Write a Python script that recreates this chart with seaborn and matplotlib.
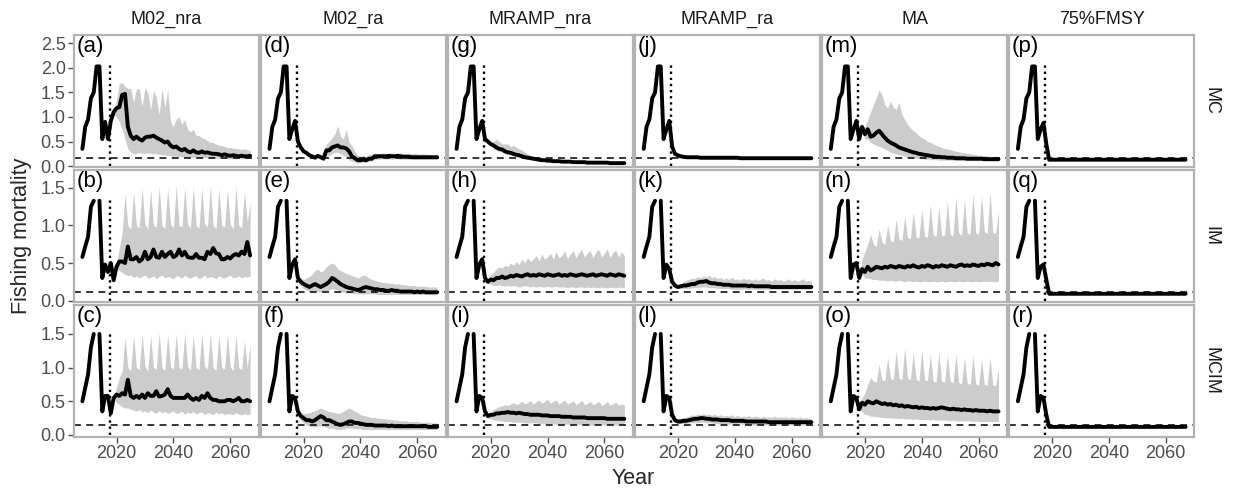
import numpy as np
import seaborn as sns
import matplotlib
matplotlib.use("Agg")
import matplotlib.pyplot as plt
from matplotlib.ticker import MultipleLocator, FixedLocator, FormatStrFormatter

nan = float("nan")

strategies = ["M02_nra", "M02_ra", "MRAMP_nra", "MRAMP_ra", "MA", "75%FMSY"]
models = ["MC", "IM", "MCIM"]

years_hist = list(range(2008, 2016))
years_proj = list(range(2016, 2068))

# historical F (2008-2015), one per operating model
hist_MC = [0.35, 0.80, 0.95, 1.38, 1.50, 2.03, 2.03, 0.55]
hist_IM = [0.58, 0.72, 0.85, 1.25, 1.33, nan, 1.33, 0.30]
hist_MCIM = [0.50, 0.70, 0.90, 1.30, 1.50, nan, 1.50, 0.35]

# reference F (dashed) per operating model
fref_MC = 0.155
fref_IM = 0.11
fref_MCIM = 0.15

# ---- MC ----
med_a = [0.90, 0.55, 0.92, 1.10, 1.18, 1.20, 1.45, 1.47, 0.80, 0.62,
         0.55, 0.60, 0.55, 0.52, 0.58, 0.60, 0.60, 0.62, 0.58, 0.55,
         0.52, 0.48, 0.50, 0.42, 0.38, 0.40, 0.35, 0.32, 0.35, 0.30,
         0.28, 0.32, 0.28, 0.27, 0.30, 0.27, 0.28, 0.26, 0.25, 0.25,
         0.24, 0.22, 0.24, 0.22, 0.21, 0.22, 0.21, 0.20, 0.21, 0.20, 0.20, 0.21]
hi_a = [0.90, 0.55, 0.92, 1.10, 1.35, 1.68, 1.70, 1.62, 1.58, 1.58,
        1.30, 1.57, 1.58, 1.22, 1.60, 1.50, 1.15, 1.55, 1.40, 1.05,
        1.57, 1.20, 1.55, 0.90, 0.80, 0.95, 1.00, 0.85, 0.95, 0.75,
        0.70, 0.75, 0.62, 0.62, 0.58, 0.55, 0.52, 0.48, 0.48, 0.45,
        0.42, 0.42, 0.40, 0.38, 0.38, 0.36, 0.36, 0.35, 0.34, 0.35, 0.33, 0.32]
lo_a = [0.90, 0.55, 0.92, 1.05, 1.00, 0.90, 0.75, 0.55, 0.35, 0.28,
        0.25, 0.26, 0.27, 0.26, 0.26, 0.27, 0.26, 0.25, 0.25, 0.24,
        0.23, 0.22, 0.22, 0.21, 0.20, 0.20, 0.19, 0.19, 0.18, 0.18,
        0.18, 0.18, 0.18, 0.17, 0.17, 0.17, 0.17, 0.16, 0.16, 0.16,
        0.16, 0.16, 0.15, 0.15, 0.15, 0.15, 0.15, 0.15, 0.15, 0.15, 0.15, 0.15]

med_d = [0.75, 0.92, 0.50, 0.38, 0.30, 0.27, 0.22, 0.20, 0.17, 0.21,
         0.18, 0.15, 0.32, 0.32, 0.38, 0.40, 0.42, 0.38, 0.38, 0.36,
         0.30, 0.20, 0.16, 0.12, 0.12, 0.13, 0.12, 0.15, 0.15, 0.20,
         0.20, 0.20, 0.20, 0.20, 0.21, 0.20, 0.20, 0.21, 0.20, 0.19,
         0.19, 0.19, 0.18, 0.18, 0.18, 0.18, 0.18, 0.18, 0.18, 0.18, 0.18, 0.18]
hi_d = [0.75, 0.92, 0.50, 0.38, 0.32, 0.28, 0.25, 0.23, 0.22, 0.24,
        0.22, 0.30, 0.45, 0.50, 0.58, 0.65, 0.82, 0.60, 0.55, 0.75,
        0.48, 0.42, 0.30, 0.22, 0.20, 0.22, 0.20, 0.24, 0.24, 0.26,
        0.26, 0.25, 0.27, 0.25, 0.26, 0.27, 0.25, 0.26, 0.27, 0.25,
        0.26, 0.27, 0.25, 0.26, 0.25, 0.24, 0.25, 0.24, 0.24, 0.23, 0.23, 0.23]
lo_d = [0.75, 0.92, 0.50, 0.38, 0.28, 0.25, 0.20, 0.18, 0.15, 0.17,
        0.15, 0.12, 0.20, 0.22, 0.25, 0.28, 0.28, 0.25, 0.22, 0.20,
        0.12, 0.10, 0.08, 0.06, 0.07, 0.08, 0.07, 0.10, 0.10, 0.14,
        0.14, 0.14, 0.15, 0.14, 0.15, 0.14, 0.15, 0.15, 0.14, 0.14,
        0.14, 0.14, 0.14, 0.14, 0.14, 0.14, 0.14, 0.14, 0.14, 0.14, 0.14, 0.14]

med_g = [0.75, 0.92, 0.55, 0.50, 0.45, 0.42, 0.38, 0.35, 0.34, 0.30,
         0.28, 0.27, 0.25, 0.23, 0.22, 0.20, 0.18, 0.17, 0.16, 0.15,
         0.14, 0.13, 0.12, 0.12, 0.11, 0.11, 0.10, 0.10, 0.10, 0.09,
         0.09, 0.09, 0.09, 0.08, 0.08, 0.08, 0.08, 0.08, 0.07, 0.07,
         0.07, 0.07, 0.07, 0.07, 0.07, 0.07, 0.06, 0.06, 0.06, 0.06, 0.06, 0.06]
hi_g = [0.75, 0.92, 0.55, 0.50, 0.48, 0.50, 0.55, 0.50, 0.45, 0.45,
        0.45, 0.40, 0.42, 0.38, 0.35, 0.32, 0.28, 0.25, 0.22, 0.20,
        0.18, 0.16, 0.15, 0.14, 0.13, 0.13, 0.12, 0.12, 0.11, 0.11,
        0.10, 0.10, 0.10, 0.10, 0.09, 0.09, 0.09, 0.09, 0.09, 0.09,
        0.09, 0.09, 0.08, 0.08, 0.08, 0.08, 0.08, 0.08, 0.08, 0.08, 0.08, 0.08]
lo_g = [0.75, 0.92, 0.55, 0.48, 0.42, 0.35, 0.32, 0.30, 0.28, 0.26,
        0.24, 0.22, 0.21, 0.19, 0.18, 0.17, 0.16, 0.15, 0.14, 0.13,
        0.12, 0.11, 0.10, 0.10, 0.09, 0.09, 0.08, 0.08, 0.08, 0.07,
        0.07, 0.07, 0.07, 0.07, 0.07, 0.06, 0.06, 0.06, 0.06, 0.06,
        0.06, 0.06, 0.06, 0.05, 0.05, 0.05, 0.05, 0.05, 0.05, 0.05, 0.05, 0.05]

med_j = [0.75, 0.92, 0.40, 0.25, 0.22, 0.20, 0.19, 0.18, 0.18, 0.18,
         0.18, 0.18, 0.17, 0.17, 0.17, 0.17, 0.17, 0.17, 0.17, 0.17,
         0.17, 0.17, 0.17, 0.17, 0.17, 0.17, 0.16, 0.16, 0.16, 0.16,
         0.16, 0.16, 0.16, 0.16, 0.16, 0.16, 0.16, 0.16, 0.16, 0.16,
         0.16, 0.16, 0.16, 0.16, 0.16, 0.16, 0.16, 0.16, 0.16, 0.16, 0.16, 0.16]
hi_j = [0.75, 0.92, 0.40, 0.27, 0.25, 0.24, 0.23, 0.22, 0.22, 0.22,
        0.22, 0.21, 0.21, 0.21, 0.20, 0.20, 0.20, 0.20, 0.20, 0.20,
        0.19, 0.19, 0.19, 0.19, 0.19, 0.19, 0.19, 0.19, 0.19, 0.19,
        0.19, 0.19, 0.19, 0.19, 0.19, 0.19, 0.19, 0.19, 0.19, 0.19,
        0.19, 0.19, 0.19, 0.19, 0.19, 0.19, 0.19, 0.19, 0.19, 0.19, 0.19, 0.19]
lo_j = [0.75, 0.92, 0.40, 0.23, 0.19, 0.17, 0.16, 0.15, 0.15, 0.15,
        0.15, 0.15, 0.14, 0.14, 0.14, 0.14, 0.14, 0.14, 0.14, 0.14,
        0.14, 0.14, 0.14, 0.14, 0.14, 0.14, 0.14, 0.14, 0.14, 0.14,
        0.14, 0.14, 0.14, 0.14, 0.14, 0.14, 0.14, 0.14, 0.14, 0.14,
        0.14, 0.14, 0.14, 0.14, 0.14, 0.14, 0.14, 0.14, 0.14, 0.14, 0.14, 0.14]

med_m = [0.75, 0.92, 0.55, 0.80, 0.65, 0.75, 0.60, 0.62, 0.68, 0.72,
         0.65, 0.58, 0.52, 0.48, 0.45, 0.42, 0.38, 0.36, 0.34, 0.32,
         0.30, 0.28, 0.27, 0.25, 0.24, 0.23, 0.22, 0.21, 0.20, 0.19,
         0.19, 0.18, 0.18, 0.17, 0.17, 0.17, 0.16, 0.16, 0.16, 0.16,
         0.15, 0.15, 0.15, 0.15, 0.15, 0.15, 0.14, 0.14, 0.14, 0.14, 0.14, 0.14]
hi_m = [0.75, 0.92, 0.55, 0.80, 0.80, 0.95, 1.10, 1.25, 1.40, 1.55,
        1.45, 1.25, 1.18, 1.32, 1.20, 1.15, 1.30, 1.05, 0.95, 0.85,
        0.78, 0.72, 0.68, 0.62, 0.58, 0.55, 0.50, 0.48, 0.45, 0.42,
        0.40, 0.38, 0.36, 0.35, 0.33, 0.32, 0.30, 0.29, 0.28, 0.27,
        0.26, 0.25, 0.24, 0.23, 0.22, 0.22, 0.21, 0.21, 0.20, 0.20, 0.20, 0.19]
lo_m = [0.75, 0.92, 0.55, 0.70, 0.55, 0.55, 0.48, 0.45, 0.42, 0.40,
        0.38, 0.35, 0.32, 0.28, 0.26, 0.25, 0.23, 0.22, 0.20, 0.19,
        0.18, 0.17, 0.16, 0.15, 0.15, 0.14, 0.14, 0.13, 0.13, 0.13,
        0.12, 0.12, 0.12, 0.12, 0.12, 0.12, 0.11, 0.11, 0.11, 0.11,
        0.11, 0.11, 0.11, 0.11, 0.11, 0.11, 0.11, 0.11, 0.11, 0.11, 0.11, 0.11]

med_p = [0.75, 0.88, 0.45] + [0.13] * 49

# ---- IM ----
med_b = [0.48, 0.38, 0.50, 0.27, 0.45, 0.52, 0.52, 0.50, 0.72, 0.55,
         0.55, 0.58, 0.52, 0.55, 0.65, 0.55, 0.58, 0.68, 0.58, 0.57,
         0.65, 0.58, 0.62, 0.65, 0.58, 0.60, 0.68, 0.60, 0.65, 0.58,
         0.57, 0.57, 0.62, 0.57, 0.57, 0.55, 0.65, 0.62, 0.70, 0.63,
         0.62, 0.55, 0.55, 0.58, 0.56, 0.60, 0.62, 0.60, 0.65, 0.62, 0.78, 0.60]
hi_b = [0.48, 0.38, 0.50, 0.27, 0.50, 0.70, 0.90, 1.42, 1.00, 0.95,
        1.45, 1.00, 0.97, 1.50, 1.02, 0.95, 1.48, 1.00, 0.98, 1.52,
        1.00, 0.96, 1.50, 1.02, 0.97, 1.53, 1.00, 0.98, 1.50, 1.02,
        0.96, 1.52, 1.00, 0.97, 1.50, 1.02, 0.98, 1.53, 1.00, 0.96,
        1.50, 1.00, 0.98, 1.48, 1.02, 0.95, 1.52, 1.00, 0.97, 1.45, 1.05, 1.30]
lo_b = [0.48, 0.38, 0.50, 0.27, 0.42, 0.40, 0.37, 0.35, 0.33, 0.34,
        0.31, 0.33, 0.30, 0.32, 0.34, 0.30, 0.31, 0.33, 0.29, 0.32,
        0.34, 0.30, 0.32, 0.31, 0.29, 0.33, 0.32, 0.30, 0.34, 0.31,
        0.30, 0.32, 0.33, 0.29, 0.31, 0.34, 0.30, 0.32, 0.31, 0.29,
        0.33, 0.31, 0.30, 0.32, 0.34, 0.30, 0.31, 0.33, 0.30, 0.32, 0.31, 0.33]

med_e = [0.48, 0.55, 0.30, 0.25, 0.22, 0.20, 0.18, 0.20, 0.22, 0.20,
         0.18, 0.20, 0.22, 0.25, 0.30, 0.28, 0.25, 0.22, 0.20, 0.18,
         0.17, 0.16, 0.15, 0.14, 0.15, 0.17, 0.18, 0.17, 0.16, 0.15,
         0.15, 0.14, 0.14, 0.13, 0.13, 0.14, 0.13, 0.13, 0.12, 0.12,
         0.12, 0.12, 0.12, 0.11, 0.12, 0.11, 0.12, 0.11, 0.11, 0.11, 0.11, 0.11]
hi_e = [0.48, 0.55, 0.32, 0.30, 0.28, 0.30, 0.32, 0.35, 0.40, 0.42,
        0.38, 0.40, 0.45, 0.48, 0.50, 0.48, 0.42, 0.40, 0.38, 0.36,
        0.35, 0.33, 0.32, 0.30, 0.32, 0.34, 0.33, 0.30, 0.28, 0.27,
        0.26, 0.25, 0.24, 0.24, 0.23, 0.23, 0.22, 0.22, 0.22, 0.21,
        0.21, 0.20, 0.20, 0.20, 0.19, 0.19, 0.19, 0.19, 0.18, 0.18, 0.18, 0.18]
lo_e = [0.48, 0.55, 0.28, 0.20, 0.16, 0.14, 0.12, 0.12, 0.13, 0.12,
        0.11, 0.12, 0.13, 0.14, 0.16, 0.15, 0.14, 0.12, 0.11, 0.10,
        0.10, 0.10, 0.09, 0.09, 0.09, 0.09, 0.09, 0.09, 0.09, 0.09,
        0.08, 0.08, 0.08, 0.08, 0.08, 0.08, 0.08, 0.08, 0.08, 0.08,
        0.08, 0.08, 0.08, 0.08, 0.08, 0.08, 0.08, 0.08, 0.08, 0.08, 0.08, 0.08]

med_h = [0.48, 0.55, 0.30, 0.25, 0.28, 0.27, 0.30, 0.30, 0.32, 0.30,
         0.31, 0.33, 0.32, 0.34, 0.33, 0.32, 0.34, 0.35, 0.33, 0.34,
         0.33, 0.35, 0.34, 0.33, 0.35, 0.34, 0.33, 0.34, 0.35, 0.33,
         0.34, 0.33, 0.35, 0.34, 0.33, 0.34, 0.35, 0.34, 0.33, 0.34,
         0.35, 0.33, 0.34, 0.35, 0.34, 0.33, 0.35, 0.34, 0.33, 0.35, 0.34, 0.33]
hi_h = [0.48, 0.55, 0.30, 0.28, 0.35, 0.38, 0.42, 0.45, 0.43, 0.47,
        0.45, 0.50, 0.47, 0.52, 0.48, 0.55, 0.50, 0.57, 0.52, 0.55,
        0.60, 0.53, 0.62, 0.55, 0.58, 0.63, 0.55, 0.65, 0.57, 0.60,
        0.66, 0.56, 0.62, 0.67, 0.57, 0.64, 0.68, 0.58, 0.63, 0.67,
        0.57, 0.65, 0.68, 0.58, 0.63, 0.69, 0.57, 0.64, 0.67, 0.58, 0.65, 0.60]
lo_h = [0.48, 0.55, 0.30, 0.22, 0.22, 0.20, 0.20, 0.21, 0.20, 0.19,
        0.20, 0.19, 0.20, 0.19, 0.18, 0.19, 0.20, 0.19, 0.18, 0.19,
        0.18, 0.19, 0.18, 0.18, 0.19, 0.18, 0.18, 0.19, 0.18, 0.18,
        0.18, 0.17, 0.18, 0.18, 0.17, 0.18, 0.18, 0.17, 0.18, 0.17,
        0.18, 0.17, 0.17, 0.18, 0.17, 0.17, 0.18, 0.17, 0.17, 0.18, 0.17, 0.17]

med_k = [0.48, 0.42, 0.25, 0.20, 0.18, 0.19, 0.20, 0.20, 0.21, 0.22,
         0.22, 0.24, 0.25, 0.25, 0.26, 0.24, 0.23, 0.23, 0.22, 0.22,
         0.21, 0.21, 0.21, 0.20, 0.20, 0.20, 0.20, 0.20, 0.20, 0.19,
         0.20, 0.19, 0.19, 0.19, 0.19, 0.19, 0.19, 0.18, 0.18, 0.18,
         0.18, 0.18, 0.18, 0.18, 0.18, 0.18, 0.18, 0.18, 0.18, 0.18, 0.18, 0.18]
hi_k = [0.48, 0.42, 0.25, 0.21, 0.20, 0.22, 0.25, 0.27, 0.28, 0.30,
        0.29, 0.32, 0.30, 0.33, 0.31, 0.34, 0.30, 0.32, 0.29, 0.31,
        0.28, 0.30, 0.28, 0.31, 0.28, 0.29, 0.27, 0.30, 0.28, 0.29,
        0.27, 0.29, 0.27, 0.28, 0.30, 0.27, 0.28, 0.26, 0.29, 0.27,
        0.28, 0.26, 0.27, 0.29, 0.26, 0.28, 0.26, 0.27, 0.29, 0.26, 0.27, 0.26]
lo_k = [0.48, 0.42, 0.25, 0.19, 0.16, 0.16, 0.16, 0.16, 0.16, 0.17,
        0.17, 0.17, 0.18, 0.18, 0.18, 0.17, 0.17, 0.17, 0.16, 0.16,
        0.16, 0.16, 0.16, 0.15, 0.15, 0.15, 0.15, 0.15, 0.15, 0.15,
        0.15, 0.15, 0.15, 0.15, 0.15, 0.15, 0.15, 0.15, 0.15, 0.15,
        0.15, 0.15, 0.15, 0.15, 0.15, 0.15, 0.15, 0.15, 0.15, 0.15, 0.15, 0.15]

med_n = [0.48, 0.50, 0.30, 0.42, 0.38, 0.45, 0.40, 0.42, 0.45, 0.44,
         0.43, 0.45, 0.44, 0.46, 0.45, 0.44, 0.46, 0.45, 0.44, 0.46,
         0.45, 0.47, 0.45, 0.44, 0.46, 0.45, 0.47, 0.46, 0.44, 0.46,
         0.45, 0.47, 0.46, 0.45, 0.47, 0.46, 0.45, 0.47, 0.48, 0.46,
         0.47, 0.46, 0.48, 0.47, 0.46, 0.48, 0.47, 0.49, 0.48, 0.47, 0.50, 0.48]
hi_n = [0.48, 0.50, 0.30, 0.55, 0.65, 0.75, 0.88, 0.75, 0.72, 0.95,
        0.78, 0.75, 1.00, 0.80, 0.78, 1.08, 0.82, 0.80, 1.12, 0.84,
        0.82, 1.18, 0.85, 0.83, 1.22, 0.86, 0.84, 1.28, 0.88, 0.85,
        1.25, 0.86, 0.87, 1.32, 0.88, 0.86, 1.38, 0.90, 0.87, 1.35,
        0.90, 0.88, 1.42, 0.90, 0.88, 1.40, 0.92, 0.89, 1.45, 0.90, 0.90, 1.20]
lo_n = [0.48, 0.50, 0.30, 0.35, 0.30, 0.30, 0.29, 0.28, 0.28, 0.27,
        0.27, 0.27, 0.26, 0.27, 0.26, 0.26, 0.27, 0.26, 0.25, 0.26,
        0.26, 0.25, 0.26, 0.25, 0.25, 0.26, 0.25, 0.25, 0.26, 0.25,
        0.25, 0.26, 0.25, 0.25, 0.26, 0.25, 0.25, 0.26, 0.25, 0.25,
        0.26, 0.25, 0.25, 0.26, 0.25, 0.25, 0.26, 0.25, 0.26, 0.25, 0.25, 0.26]

med_q = [0.45, 0.48, 0.28] + [0.09] * 49

# ---- MCIM ----
med_c = [0.58, 0.58, 0.32, 0.55, 0.60, 0.58, 0.62, 0.60, 0.82, 0.58,
         0.55, 0.58, 0.55, 0.60, 0.55, 0.62, 0.58, 0.58, 0.65, 0.57,
         0.58, 0.60, 0.68, 0.58, 0.55, 0.55, 0.55, 0.55, 0.55, 0.60,
         0.55, 0.52, 0.55, 0.52, 0.58, 0.55, 0.62, 0.55, 0.52, 0.52,
         0.50, 0.50, 0.50, 0.52, 0.52, 0.50, 0.52, 0.55, 0.50, 0.50, 0.52, 0.50]
hi_c = [0.58, 0.58, 0.32, 0.55, 0.70, 0.85, 0.95, 1.45, 1.00, 0.95,
        1.48, 1.00, 0.97, 1.50, 1.02, 0.95, 1.48, 1.00, 0.98, 1.52,
        1.00, 0.96, 1.50, 1.02, 0.97, 1.50, 1.00, 0.98, 1.52, 1.02,
        0.96, 1.48, 1.00, 0.97, 1.52, 1.02, 0.98, 1.50, 1.00, 0.96,
        1.48, 1.00, 0.98, 1.50, 1.02, 0.95, 1.48, 1.00, 0.97, 1.40, 1.00, 1.35]
lo_c = [0.58, 0.58, 0.32, 0.55, 0.48, 0.45, 0.42, 0.40, 0.40, 0.38,
        0.37, 0.35, 0.38, 0.34, 0.36, 0.33, 0.37, 0.34, 0.32, 0.36,
        0.33, 0.35, 0.32, 0.34, 0.36, 0.32, 0.33, 0.35, 0.31, 0.34,
        0.32, 0.35, 0.31, 0.33, 0.34, 0.30, 0.33, 0.32, 0.30, 0.34,
        0.31, 0.33, 0.30, 0.32, 0.31, 0.30, 0.33, 0.31, 0.30, 0.32, 0.30, 0.31]

med_f = [0.58, 0.55, 0.35, 0.28, 0.25, 0.22, 0.22, 0.20, 0.22, 0.25,
         0.28, 0.26, 0.22, 0.22, 0.20, 0.18, 0.16, 0.15, 0.16, 0.18,
         0.20, 0.20, 0.18, 0.18, 0.17, 0.16, 0.15, 0.15, 0.15, 0.14,
         0.14, 0.14, 0.14, 0.14, 0.13, 0.14, 0.13, 0.13, 0.13, 0.13,
         0.13, 0.13, 0.13, 0.13, 0.13, 0.13, 0.13, 0.13, 0.12, 0.12, 0.12, 0.12]
hi_f = [0.58, 0.55, 0.38, 0.33, 0.32, 0.32, 0.33, 0.35, 0.36, 0.38,
        0.40, 0.38, 0.36, 0.35, 0.34, 0.33, 0.32, 0.33, 0.35, 0.38,
        0.40, 0.38, 0.35, 0.33, 0.30, 0.29, 0.28, 0.27, 0.26, 0.26,
        0.25, 0.25, 0.24, 0.24, 0.23, 0.23, 0.22, 0.22, 0.21, 0.21,
        0.21, 0.20, 0.20, 0.20, 0.20, 0.19, 0.19, 0.19, 0.19, 0.18, 0.18, 0.18]
lo_f = [0.58, 0.55, 0.32, 0.22, 0.18, 0.15, 0.13, 0.12, 0.12, 0.13,
        0.14, 0.13, 0.11, 0.10, 0.10, 0.09, 0.08, 0.08, 0.09, 0.10,
        0.10, 0.10, 0.09, 0.09, 0.09, 0.08, 0.08, 0.08, 0.08, 0.08,
        0.08, 0.08, 0.08, 0.08, 0.08, 0.08, 0.08, 0.08, 0.08, 0.08,
        0.08, 0.08, 0.08, 0.08, 0.08, 0.08, 0.08, 0.08, 0.08, 0.08, 0.08, 0.08]

med_i = [0.58, 0.55, 0.35, 0.28, 0.30, 0.30, 0.32, 0.32, 0.33, 0.33,
         0.34, 0.33, 0.33, 0.32, 0.33, 0.32, 0.31, 0.31, 0.30, 0.30,
         0.30, 0.30, 0.29, 0.29, 0.29, 0.28, 0.28, 0.28, 0.28, 0.27,
         0.27, 0.27, 0.27, 0.26, 0.26, 0.26, 0.26, 0.26, 0.25, 0.25,
         0.25, 0.25, 0.25, 0.25, 0.25, 0.24, 0.24, 0.24, 0.24, 0.24, 0.24, 0.24]
hi_i = [0.58, 0.55, 0.35, 0.30, 0.35, 0.38, 0.40, 0.42, 0.43, 0.45,
        0.44, 0.46, 0.48, 0.45, 0.47, 0.50, 0.46, 0.48, 0.51, 0.46,
        0.49, 0.52, 0.47, 0.50, 0.53, 0.47, 0.50, 0.52, 0.46, 0.49,
        0.52, 0.46, 0.48, 0.51, 0.45, 0.48, 0.51, 0.45, 0.47, 0.50,
        0.45, 0.47, 0.50, 0.44, 0.46, 0.50, 0.44, 0.46, 0.49, 0.44, 0.46, 0.45]
lo_i = [0.58, 0.55, 0.35, 0.25, 0.24, 0.22, 0.22, 0.21, 0.21, 0.20,
        0.20, 0.20, 0.19, 0.19, 0.19, 0.19, 0.18, 0.18, 0.18, 0.18,
        0.18, 0.17, 0.17, 0.17, 0.17, 0.17, 0.17, 0.16, 0.16, 0.16,
        0.16, 0.16, 0.16, 0.16, 0.16, 0.16, 0.15, 0.15, 0.15, 0.15,
        0.15, 0.15, 0.15, 0.15, 0.15, 0.15, 0.15, 0.15, 0.15, 0.15, 0.15, 0.15]

med_l = [0.58, 0.55, 0.30, 0.22, 0.20, 0.20, 0.21, 0.21, 0.22, 0.23,
         0.24, 0.24, 0.25, 0.25, 0.24, 0.24, 0.23, 0.23, 0.23, 0.22,
         0.22, 0.22, 0.22, 0.21, 0.21, 0.21, 0.21, 0.21, 0.20, 0.20,
         0.20, 0.20, 0.20, 0.20, 0.20, 0.20, 0.19, 0.19, 0.19, 0.19,
         0.19, 0.19, 0.19, 0.19, 0.19, 0.19, 0.19, 0.19, 0.19, 0.19, 0.19, 0.19]
hi_l = [0.58, 0.55, 0.30, 0.24, 0.24, 0.25, 0.26, 0.27, 0.28, 0.30,
        0.29, 0.31, 0.30, 0.32, 0.30, 0.31, 0.29, 0.31, 0.28, 0.30,
        0.28, 0.29, 0.28, 0.30, 0.27, 0.29, 0.27, 0.28, 0.27, 0.29,
        0.26, 0.28, 0.27, 0.26, 0.28, 0.26, 0.27, 0.26, 0.28, 0.26,
        0.27, 0.26, 0.27, 0.25, 0.27, 0.26, 0.25, 0.27, 0.25, 0.26, 0.25, 0.25]
lo_l = [0.58, 0.55, 0.30, 0.20, 0.17, 0.17, 0.17, 0.17, 0.18, 0.18,
        0.18, 0.18, 0.19, 0.19, 0.18, 0.18, 0.18, 0.17, 0.17, 0.17,
        0.17, 0.17, 0.16, 0.16, 0.16, 0.16, 0.16, 0.16, 0.15, 0.15,
        0.15, 0.15, 0.15, 0.15, 0.15, 0.15, 0.15, 0.15, 0.15, 0.15,
        0.15, 0.15, 0.15, 0.15, 0.15, 0.15, 0.15, 0.15, 0.15, 0.15, 0.15, 0.15]

med_o = [0.58, 0.55, 0.38, 0.48, 0.45, 0.50, 0.48, 0.47, 0.50, 0.48,
         0.46, 0.47, 0.45, 0.46, 0.44, 0.45, 0.43, 0.44, 0.42, 0.43,
         0.42, 0.41, 0.42, 0.40, 0.41, 0.40, 0.40, 0.39, 0.40, 0.39,
         0.40, 0.41, 0.40, 0.39, 0.38, 0.39, 0.38, 0.38, 0.37, 0.38,
         0.37, 0.37, 0.36, 0.37, 0.36, 0.36, 0.36, 0.35, 0.36, 0.35, 0.35, 0.35]
hi_o = [0.58, 0.55, 0.38, 0.55, 0.62, 0.75, 0.85, 0.80, 0.78, 1.05,
        0.82, 0.80, 1.15, 0.84, 0.82, 1.25, 0.85, 0.82, 1.30, 0.84,
        0.82, 1.22, 0.83, 0.80, 1.25, 0.82, 0.80, 1.20, 0.80, 0.78,
        1.22, 0.80, 0.78, 1.18, 0.80, 0.77, 1.20, 0.78, 0.76, 1.15,
        0.77, 0.75, 1.18, 0.76, 0.74, 1.12, 0.75, 0.74, 1.15, 0.74, 0.73, 1.00]
lo_o = [0.58, 0.55, 0.38, 0.35, 0.30, 0.30, 0.28, 0.28, 0.27, 0.27,
        0.26, 0.26, 0.25, 0.26, 0.25, 0.25, 0.24, 0.25, 0.24, 0.24,
        0.24, 0.23, 0.24, 0.23, 0.23, 0.23, 0.23, 0.22, 0.23, 0.22,
        0.22, 0.22, 0.22, 0.22, 0.21, 0.22, 0.21, 0.21, 0.21, 0.21,
        0.21, 0.21, 0.20, 0.21, 0.20, 0.20, 0.20, 0.20, 0.20, 0.20, 0.20, 0.20]

med_r = [0.58, 0.55, 0.30] + [0.12] * 49

# panel lookup: (row, col) -> (label, median, lower, upper)
panels = {
    (0, 0): ("(a)", med_a, lo_a, hi_a), (1, 0): ("(b)", med_b, lo_b, hi_b), (2, 0): ("(c)", med_c, lo_c, hi_c),
    (0, 1): ("(d)", med_d, lo_d, hi_d), (1, 1): ("(e)", med_e, lo_e, hi_e), (2, 1): ("(f)", med_f, lo_f, hi_f),
    (0, 2): ("(g)", med_g, lo_g, hi_g), (1, 2): ("(h)", med_h, lo_h, hi_h), (2, 2): ("(i)", med_i, lo_i, hi_i),
    (0, 3): ("(j)", med_j, lo_j, hi_j), (1, 3): ("(k)", med_k, lo_k, hi_k), (2, 3): ("(l)", med_l, lo_l, hi_l),
    (0, 4): ("(m)", med_m, lo_m, hi_m), (1, 4): ("(n)", med_n, lo_n, hi_n), (2, 4): ("(o)", med_o, lo_o, hi_o),
    (0, 5): ("(p)", med_p, None, None), (1, 5): ("(q)", med_q, None, None), (2, 5): ("(r)", med_r, None, None),
}
row_hist = [hist_MC, hist_IM, hist_MCIM]
row_fref = [fref_MC, fref_IM, fref_MCIM]
row_ylim = [(-0.02, 2.67), (-0.02, 1.74), (-0.03, 1.93)]
row_vtop = [2.05, 1.35, 1.52]

sns.set_theme(style="ticks")
plt.rcParams["font.family"] = ["Liberation Sans", "DejaVu Sans"]

fig = plt.figure(figsize=(12.38, 4.93), dpi=100)
gs = fig.add_gridspec(3, 6, left=74 / 1238, right=1194 / 1238, top=1 - 35 / 493,
                      bottom=1 - 437 / 493, wspace=0.014, hspace=0.022)

years_all = np.array(years_hist + years_proj, dtype=float)

for r in range(3):
    for c in range(6):
        ax = fig.add_subplot(gs[r, c])
        label, med, lo, hi = panels[(r, c)]
        if lo is not None:
            ax.fill_between(years_proj, lo, hi, color="#cccccc", lw=0, zorder=1)
        ax.axhline(row_fref[r], color="black", lw=1.1, ls=(0, (4.5, 3.5)), zorder=2)
        ax.vlines(2017.6, 0, row_vtop[r], color="black", lw=1.7, ls=(0, (1, 1.6)), zorder=2)

        y = np.array(row_hist[r] + med, dtype=float)
        ok = ~np.isnan(y)
        edges = np.flatnonzero(np.diff(np.r_[0, ok.astype(int), 0]))
        for s, e in zip(edges[::2], edges[1::2]):
            sns.lineplot(x=years_all[s:e], y=y[s:e], ax=ax, color="black", lw=2.8,
                         estimator=None, sort=False, legend=False, zorder=3)

        ax.set_xlim(2005.05, 2069.95)
        ax.set_ylim(*row_ylim[r])
        ax.xaxis.set_major_locator(FixedLocator([2020, 2040, 2060]))
        ax.yaxis.set_major_locator(MultipleLocator(0.5))
        ax.yaxis.set_major_formatter(FormatStrFormatter("%.1f"))
        ax.set_xlabel("")
        ax.set_ylabel("")
        for sp in ax.spines.values():
            sp.set_color("#b3b3b3")
            sp.set_linewidth(1.6)
        ax.tick_params(axis="both", length=4, width=1, color="#4d4d4d",
                       labelsize=13, labelcolor="#4d4d4d", pad=2)
        ax.tick_params(axis="x", bottom=(r == 2), labelbottom=(r == 2))
        ax.tick_params(axis="y", left=(c == 0), labelleft=(c == 0))

        ax.text(0.012, 0.995, label, transform=ax.transAxes, ha="left", va="top",
                fontsize=16, color="black")
        if r == 0:
            ax.set_title(strategies[c], fontsize=13, color="#1a1a1a", pad=8)
        if c == 5:
            ax.text(1.09, 0.5, models[r], transform=ax.transAxes, rotation=-90,
                    ha="center", va="center", fontsize=13, color="#1a1a1a")

fig.text(633 / 1238, 1 - 478 / 493, "Year", ha="center", va="center", fontsize=15.5)
fig.text(22 / 1238, 1 - 236 / 493, "Fishing mortality", ha="center", va="center",
         rotation=90, fontsize=15.5)

fig.savefig("out.png", dpi=100)
